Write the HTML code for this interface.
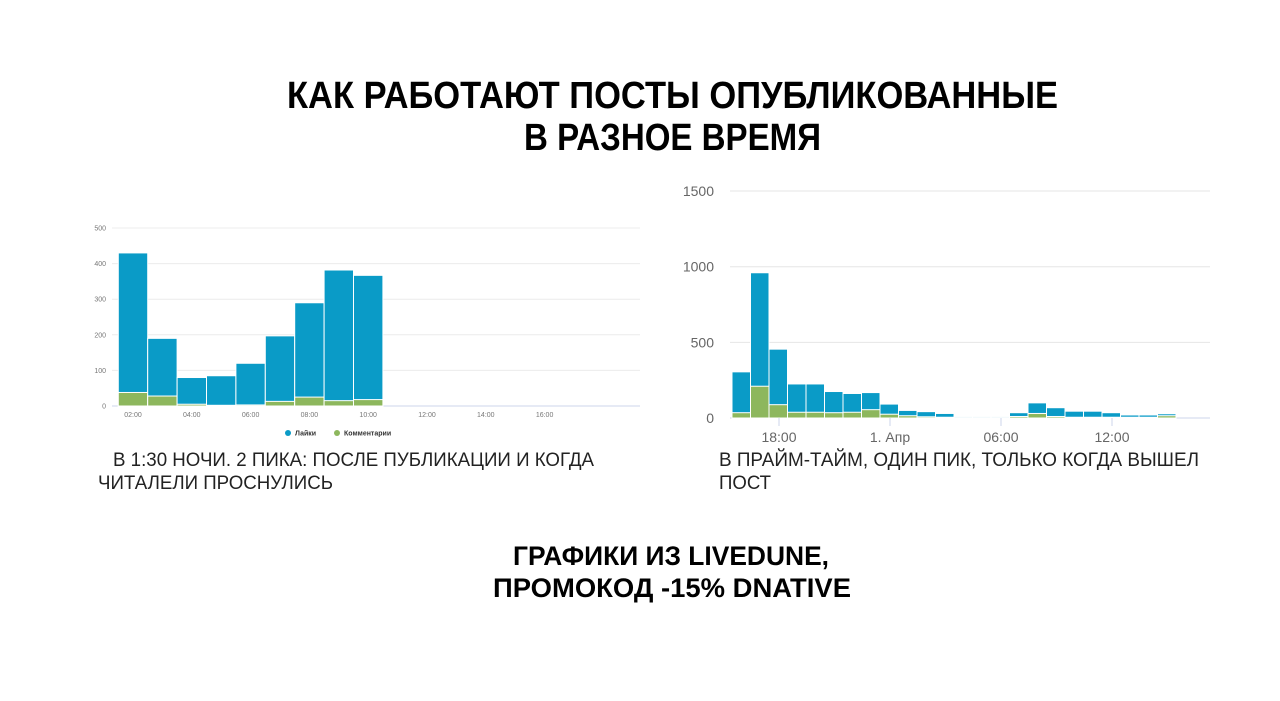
<!DOCTYPE html>
<html><head><meta charset="utf-8"><style>
html,body{margin:0;padding:0;background:#fff}
svg{display:block}
text{font-family:"Liberation Sans",sans-serif}
</style></head><body>
<svg id="page" width="1280" height="701" viewBox="0 0 1280 701">
<g font-weight="bold" font-size="38" fill="#000" text-anchor="start">
<text x="287" y="108" textLength="771" lengthAdjust="spacingAndGlyphs">КАК РАБОТАЮТ ПОСТЫ ОПУБЛИКОВАННЫЕ</text>
<text x="524" y="150" textLength="297" lengthAdjust="spacingAndGlyphs">В РАЗНОЕ ВРЕМЯ</text>
</g>
<g id="left"></g>
<g id="right"></g>
<g font-size="19" fill="#222">
<text x="113" y="466" textLength="481" lengthAdjust="spacingAndGlyphs">В 1:30 НОЧИ. 2 ПИКА: ПОСЛЕ ПУБЛИКАЦИИ И КОГДА</text>
<text x="98" y="489" textLength="235" lengthAdjust="spacingAndGlyphs">ЧИТАЛЕЛИ ПРОСНУЛИСЬ</text>
<text x="719" y="466" textLength="480" lengthAdjust="spacingAndGlyphs">В ПРАЙМ-ТАЙМ, ОДИН ПИК, ТОЛЬКО КОГДА ВЫШЕЛ</text>
<text x="719" y="489" textLength="52" lengthAdjust="spacingAndGlyphs">ПОСТ</text>
</g>
<g font-weight="bold" font-size="27" fill="#000">
<text x="513" y="565" textLength="316" lengthAdjust="spacingAndGlyphs">ГРАФИКИ ИЗ LIVEDUNE,</text>
<text x="493" y="597" textLength="358" lengthAdjust="spacingAndGlyphs">ПРОМОКОД -15% DNATIVE</text>
</g>
</svg>
<script>
const NS='http://www.w3.org/2000/svg';
const BLUE='#0a9bc7', GREEN='#8db75d';
// Left chart data
const leftHours=[2,3,4,5,6,7,8,9,10];
const leftLikes=[430,190,80,85,120,197,290,382,367];
const leftComments=[38,28,5,2,3,13,25,15,18];
const leftYTicks=[0,100,200,300,400,500];
const leftXTicks=['02:00','04:00','06:00','08:00','10:00','12:00','14:00','16:00'];
const leftXTickHours=[2,4,6,8,10,12,14,16];
// Right chart data
const rightLikes=[305,960,455,225,225,175,162,168,92,50,42,30,10,10,10,35,100,68,45,45,35,20,20,28];
const rightComments=[35,210,88,38,38,35,38,55,25,15,8,5,3,3,3,10,30,10,5,5,5,5,5,15];
const rightYTicks=[0,500,1000,1500];
const rightXTicks=['18:00','1. Апр','06:00','12:00'];
const rightXTickIdx=[2.54,8.54,14.54,20.54];

function mk(tag,attrs,parent,txt){const e=document.createElementNS(NS,tag);for(const k in attrs)e.setAttribute(k,attrs[k]);if(txt!=null)e.textContent=txt;parent.appendChild(e);return e;}

// LEFT
(function(){
const g=document.getElementById('left');
const y=v=>406-v*0.356;
const x=h=>133+(h-2)*29.4;
leftYTicks.forEach(t=>{
  const l=mk('line',{x1:112,x2:640,y1:y(t),y2:y(t),stroke:t===0?'#ccd6eb':'#ececec','stroke-width':1},g);
  
  
  const tx=mk('text',{x:106,y:y(t)+2.5,'font-size':7,fill:'#777','text-anchor':'end'},g,String(t));
  
  
});
leftHours.forEach((h,i)=>{
  const x0=x(h)-14.7;
  const r=mk('rect',{x:x0,y:y(leftLikes[i]),width:29.4,height:y(0)-y(leftLikes[i]),fill:BLUE,stroke:'#fff','stroke-width':1},g);
  
  
  const c=mk('rect',{x:x0,y:y(leftComments[i]),width:29.4,height:y(0)-y(leftComments[i]),fill:GREEN,stroke:'#fff','stroke-width':1},g);
  
  
});
leftXTicks.forEach((t,i)=>{
  const tx=mk('text',{x:x(leftXTickHours[i]),y:417,'font-size':7,fill:'#777','text-anchor':'middle'},g,t);
  
  
});
const lg=mk('g',{},g);


mk('circle',{cx:288,cy:433,r:3,fill:BLUE},lg);
mk('text',{x:295,y:435.5,'font-size':7,'font-weight':'bold',fill:'#333'},lg,'Лайки');
mk('circle',{cx:337,cy:433,r:3,fill:GREEN},lg);
mk('text',{x:344,y:435.5,'font-size':7,'font-weight':'bold',fill:'#333'},lg,'Комментарии');
})();

// RIGHT
(function(){
const g=document.getElementById('right');
const y=v=>418-v*0.1513;
const x=i=>732+i*18.5;
rightYTicks.forEach(t=>{
  const l=mk('line',{x1:730,x2:1210,y1:y(t),y2:y(t),stroke:t===0?'#ccd6eb':'#e6e6e6','stroke-width':1},g);
  
  
  const tx=mk('text',{x:714,y:y(t)+5,'font-size':14,fill:'#666','text-anchor':'end'},g,String(t));
  
  
});
rightLikes.forEach((v,i)=>{
  const r=mk('rect',{x:x(i),y:y(v),width:18.5,height:y(0)-y(v),fill:BLUE,stroke:'#fff','stroke-width':1},g);
  
  
  const c=mk('rect',{x:x(i),y:y(rightComments[i]),width:18.5,height:y(0)-y(rightComments[i]),fill:GREEN,stroke:'#fff','stroke-width':1},g);
  
  
});
rightXTicks.forEach((t,i)=>{
  const xx=x(rightXTickIdx[i]);
  const tk=mk('line',{x1:xx,x2:xx,y1:418,y2:426,stroke:'#ccd6eb','stroke-width':1},g);
  
  
  const tx=mk('text',{x:xx,y:442,'font-size':14,fill:'#666','text-anchor':'middle'},g,t);
  
  
});
})();
</script>
</body></html>
